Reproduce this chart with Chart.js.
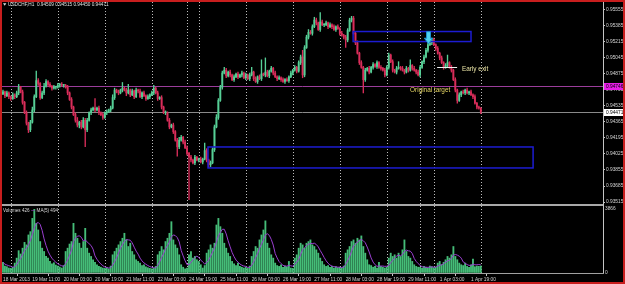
<!DOCTYPE html>
<html>
<head>
<meta charset="utf-8">
<script src="https://cdn.jsdelivr.net/npm/chart.js@4.4.1/dist/chart.umd.min.js"></script>
<style>
  html, body { margin: 0; padding: 0; background: #000; overflow: hidden; }
  #wrap { position: relative; width: 625px; height: 284px; background: #000; }
  #wrap canvas { position: absolute; left: 0; }
  #price { top: 0; }
  #vol { top: 205px; }
  #split { position: absolute; left: 2px; top: 204px; width: 601px; height: 2px; background: #a8a8a8; }
  #frame { position: absolute; left: 0; top: 0; width: 625px; height: 284px; box-sizing: border-box;
           border: 2px solid #c81e1e; pointer-events: none; }
</style>
</head>
<body>
<div id="wrap">
  <canvas id="price" width="625" height="205"></canvas>
  <div id="split"></div>
  <canvas id="vol" width="625" height="79"></canvas>
  <div id="frame"></div>
</div>
<script>
/* ── USDCHF H1, 18 Mar 2013 20:00 → 2 Apr 00:00 (one value per bar) ── */

// prices in pips (0.0001); open of each bar = previous close
const FIRST_OPEN = 9466;
const CLOSE = [
  9468, 9464, 9467, 9463,
  9461, 9465, 9463, 9467, 9473, 9468, 9457, 9446, 9435, 9428, 9436, 9449, 9463, 9480, 9477, 9462, 9467, 9474, 9479, 9476, 9474, 9472, 9473, 9473,
  9475, 9476, 9475, 9475, 9473, 9467, 9460, 9452, 9444, 9438, 9433, 9436, 9431, 9438, 9428, 9438, 9446, 9449, 9451, 9449, 9451, 9446, 9444, 9441,
  9446, 9447, 9449, 9451, 9462, 9470, 9468, 9467, 9470, 9472, 9470, 9467, 9470, 9465, 9469, 9463, 9470, 9469, 9463, 9467, 9464, 9461, 9463, 9465,
  9467, 9472, 9467, 9461, 9462, 9452, 9446, 9446, 9438, 9431, 9433, 9426, 9417, 9410, 9417, 9420, 9415, 9409,
  9403, 9399, 9396, 9393, 9399, 9396,
  9397, 9394, 9397, 9406, 9396, 9391, 9393, 9407, 9431, 9441, 9459, 9473, 9488, 9491, 9485, 9489, 9486, 9481, 9484, 9487, 9484, 9486, 9488, 9483,
  9486, 9482, 9486, 9489, 9482, 9479, 9484, 9482, 9487, 9486, 9489, 9485, 9490, 9493, 9488, 9484, 9482, 9483, 9481, 9479, 9481, 9480, 9484, 9488,
  9491, 9494, 9490, 9499, 9505, 9486, 9515, 9526, 9531, 9530, 9537, 9544, 9541, 9534, 9542, 9539, 9539, 9541, 9537, 9539, 9537, 9534, 9537, 9535,
  9530, 9528, 9526, 9523, 9533, 9544, 9546, 9530, 9520, 9509, 9499, 9494, 9481, 9491, 9493, 9489, 9494, 9497, 9495, 9499, 9494, 9493, 9491, 9486,
  9494, 9507, 9500, 9491, 9489, 9493, 9494, 9493, 9491, 9489, 9493, 9491, 9496, 9493, 9491, 9489, 9486,
  9494, 9500, 9505, 9512, 9518, 9520, 9523,
  9518, 9514, 9509, 9504, 9499, 9494, 9496, 9499, 9494, 9491, 9481, 9470, 9459, 9465, 9468, 9467, 9470, 9467, 9468, 9465, 9463, 9456, 9452, 9450.9, 9447.1
];
// wick length above / below the body, pips
const UP_WICK = [
  2, 1, 2, 1,
  1, 2, 1, 2, 3, 1, 2, 1, 2, 1, 2, 3, 2, 10, 2, 1, 2, 3, 2, 1, 2, 1, 2, 1,
  2, 1, 2, 1, 1, 2, 1, 2, 1, 2, 3, 1, 2, 3, 2, 2, 1, 2, 1, 10, 1, 2, 1, 2,
  1, 2, 1, 2, 3, 2, 1, 2, 1, 6, 1, 2, 6, 1, 2, 1, 2, 1, 2, 1, 2, 1, 2, 1,
  2, 3, 1, 2, 1, 2, 1, 2, 1, 2, 1, 2, 1, 2, 3, 2, 1, 2,
  2, 1, 2, 1, 2, 1,
  1, 2, 1, 8, 2, 1, 2, 2, 2, 3, 2, 2, 2, 3, 2, 1, 2, 1, 2, 1, 2, 1, 2, 1,
  2, 1, 2, 5, 1, 2, 1, 2, 15, 1, 15, 2, 1, 2, 1, 2, 1, 2, 1, 2, 1, 2, 1, 2,
  1, 2, 1, 2, 2, 7, 2, 2, 3, 2, 2, 3, 2, 1, 10, 2, 1, 2, 1, 2, 1, 2, 1, 2,
  1, 2, 1, 2, 2, 2, 2, 2, 1, 2, 1, 2, 1, 2, 1, 2, 1, 2, 1, 2, 1, 2, 1, 2,
  2, 2, 1, 2, 1, 2, 6, 1, 2, 1, 2, 1, 6, 1, 2, 1, 2,
  2, 1, 2, 2, 3, 2, 2,
  2, 1, 2, 1, 2, 1, 2, 8, 1, 2, 1, 2, 1, 2, 1, 2, 1, 2, 1, 2, 1, 2, 1, 1, 0.6
];
const DN_WICK = [
  1, 2, 1, 2,
  2, 1, 2, 1, 2, 1, 2, 1, 2, 3, 2, 1, 2, 1, 2, 2, 1, 2, 1, 2, 1, 2, 1, 2,
  1, 2, 1, 2, 1, 2, 1, 2, 1, 2, 2, 3, 2, 1, 18, 2, 1, 2, 1, 2, 1, 2, 1, 2,
  1, 2, 1, 2, 1, 2, 1, 2, 1, 2, 1, 3, 1, 2, 1, 2, 1, 2, 1, 2, 1, 2, 1, 2,
  1, 2, 1, 2, 1, 2, 1, 2, 1, 2, 1, 2, 1, 10, 2, 1, 2, 1,
  2, 45, 2, 1, 2, 1,
  2, 1, 2, 1, 2, 3, 2, 1, 2, 1, 2, 1, 2, 1, 2, 1, 2, 1, 2, 1, 2, 1, 2, 1,
  2, 1, 2, 1, 2, 1, 2, 1, 2, 1, 2, 1, 2, 1, 2, 1, 2, 1, 2, 1, 2, 1, 2, 1,
  2, 1, 2, 1, 2, 3, 2, 1, 2, 1, 2, 1, 2, 1, 2, 1, 2, 1, 2, 1, 2, 1, 2, 1,
  2, 1, 2, 8, 2, 1, 2, 1, 2, 1, 2, 1, 14, 2, 1, 2, 1, 2, 1, 2, 1, 2, 1, 2,
  1, 2, 1, 2, 1, 2, 1, 2, 1, 2, 1, 2, 1, 2, 1, 2, 1,
  2, 1, 2, 1, 2, 1, 2,
  1, 2, 1, 2, 1, 2, 1, 2, 1, 2, 1, 2, 3, 1, 2, 1, 2, 1, 2, 1, 2, 1, 2, 1, 2.1
];
const VOLUME = [
  650, 420, 380, 300,
  280, 350, 600, 900, 1350, 1150, 1500, 1850, 1700, 2300, 2500, 3300, 3866, 3000, 2600, 1900, 1500, 1300, 1000, 900, 700, 560, 620, 480,
  420, 360, 300, 450, 1300, 1500, 1750, 1900, 3000, 2400, 2100, 1800, 1500, 1900, 2700, 1500, 1200, 1000, 800, 650, 500, 400, 350, 300,
  280, 330, 250, 420, 1100, 1300, 1500, 1700, 1900, 2100, 2400, 2000, 1600, 1800, 1300, 1100, 800, 700, 600, 450, 500, 380, 320, 280,
  250, 300, 400, 1100, 1300, 1600, 1400, 1900, 2100, 2400, 3100, 2000, 1700, 1500, 1100, 500, 350, 250,
  300, 1100, 1300, 900, 1000, 800,
  700, 500, 300, 450, 1200, 1400, 1700, 1500, 1800, 2900, 3300, 2800, 2400, 1800, 1500, 1200, 1000, 700, 550, 450, 600, 400, 350, 300,
  350, 280, 420, 1000, 1300, 1600, 1500, 2000, 2300, 2600, 3150, 1800, 1500, 1100, 900, 600, 450, 400, 500, 350, 420, 380, 700, 300,
  280, 900, 1100, 1500, 1800, 1700, 1500, 1800, 1900, 2000, 1700, 1600, 1400, 1200, 900, 700, 500, 400, 450, 350, 400, 300, 380, 320,
  350, 300, 420, 1200, 1400, 1600, 1900, 2000, 1800, 2100, 2000, 2240, 1600, 1200, 800, 500, 450, 350, 400, 300, 650, 400, 350, 300,
  350, 900, 1200, 1000, 1100, 900, 1200, 1000, 1400, 2000, 1300, 1000, 900, 700, 500, 400, 350,
  350, 300, 400, 350, 300, 420, 380,
  320, 350, 600, 700, 500, 650, 800, 1000, 900, 1100, 1600, 1000, 800, 600, 500, 450, 600, 400, 350, 500, 840, 380, 420, 404, 426
];
const MA_PERIOD = 5;

// axis labels
const PRICE_TICKS = [0.95555, 0.95385, 0.95215, 0.95045, 0.94875, 0.94705, 0.94535, 0.94365, 0.94195, 0.94025, 0.93855, 0.93685, 0.93515];
const VOL_TICKS = [0, 3866];
const TIME_TICK_BARS = [0, 15, 31, 47, 63, 79, 95, 111, 127, 143, 159, 175, 191, 207, 223, 239];
const TIME_TICK_LABELS = ['18 Mar 2013', '19 Mar 11:00', '20 Mar 03:00', '20 Mar 19:00', '21 Mar 11:00', '22 Mar 03:00',
  '24 Mar 19:00', '25 Mar 11:00', '26 Mar 03:00', '26 Mar 19:00', '27 Mar 11:00', '28 Mar 03:00', '28 Mar 19:00',
  '29 Mar 11:00', '1 Apr 03:00', '1 Apr 19:00'];
const DAY_SEPARATORS = [4, 28, 52, 76, 94, 100, 124, 148, 172, 196, 213, 220, 244];

// objects drawn on the chart (bar index / price)
const TARGET_LEVEL = 0.94746;
const ZONES = [
  { from: 178.8, to: 239.0, top: 0.95319, bottom: 0.95213 },
  { from: 104.7, to: 270.7, top: 0.94098, bottom: 0.93876 }
];
const EARLY_EXIT = { from: 221.7, to: 231.9, price: 0.94941 };
const NOTES = [
  { text: 'Early exit',      bar: 234.4, price: 0.94923, color: '#e8e2a4' },
  { text: 'Original target', bar: 207.9, price: 0.94695, color: '#e6d664' }
];
const SELL_ARROW = { bar: 217.3, price: 0.95317 };

/* ── style ─────────────────────────────────────────────── */
const FONT = '"Liberation Sans", Arial, sans-serif';
const BULL = '#56cf96';
const BEAR = '#d92d5a';
const VOL_COLOR = '#45bd78';
const MA_COLOR = '#9a3fd0';
const AXIS_TXT = '#d4d4d4';
const AXIS_LINE = '#c4c4c4';
const PIP = 10000;
const X_MIN = -0.5, X_MAX = 306.4;           // empty shift area on the right
const P_MIN = 0.935265, P_MAX = 0.956101;

/* ── build series ──────────────────────────────────────── */
const N = CLOSE.length;
const OPEN = CLOSE.map((c, i) => i ? CLOSE[i - 1] : FIRST_OPEN);
const bodies = CLOSE.map((c, i) => ({ x: i, y: [OPEN[i] / PIP, c / PIP] }));
const wicks = CLOSE.map((c, i) => ({
  x: i,
  y: [(Math.min(OPEN[i], c) - DN_WICK[i]) / PIP, (Math.max(OPEN[i], c) + UP_WICK[i]) / PIP]
}));
const candleColors = CLOSE.map((c, i) => c >= OPEN[i] ? BULL : BEAR);

const volBars = VOLUME.map((v, i) => ({ x: i, y: v }));
const maVals = VOLUME.map((v, i) => {
  const win = VOLUME.slice(Math.max(0, i - MA_PERIOD + 1), i + 1);
  return win.reduce((a, b) => a + b, 0) / win.length;
});
const maLine = maVals.map((v, i) => ({ x: i, y: v }));

const last = N - 1;
const fmt = p => (p / PIP).toFixed(5);
const TITLE = `USDCHF,H1  ${fmt(OPEN[last])} ${fmt(Math.max(OPEN[last], CLOSE[last]) + UP_WICK[last])} ` +
              `${fmt(Math.min(OPEN[last], CLOSE[last]) - DN_WICK[last])} ${fmt(CLOSE[last])}`;

/* ── helpers ───────────────────────────────────────────── */
function drawSeparators(chart, y0, y1) {
  const { ctx } = chart, xs = chart.scales.x;
  ctx.save();
  ctx.strokeStyle = '#bdbdbd';
  ctx.lineWidth = 1;
  ctx.setLineDash([1, 2]);
  DAY_SEPARATORS.forEach(b => {
    const x = Math.round(xs.getPixelForValue(b)) + 0.5;
    ctx.beginPath(); ctx.moveTo(x, y0); ctx.lineTo(x, y1); ctx.stroke();
  });
  ctx.restore();
}

function drawAxisLine(chart, y0, y1) {
  const { ctx, chartArea } = chart;
  const x = Math.round(chartArea.right) + 0.5;
  ctx.save();
  ctx.strokeStyle = AXIS_LINE; ctx.lineWidth = 1;
  ctx.beginPath(); ctx.moveTo(x, y0); ctx.lineTo(x, y1); ctx.stroke();
  ctx.restore();
}

function hLine(chart, price, color) {
  const { ctx, chartArea } = chart;
  const y = Math.round(chart.scales.y.getPixelForValue(price)) + 0.5;
  ctx.save();
  ctx.strokeStyle = color; ctx.lineWidth = 1;
  ctx.beginPath(); ctx.moveTo(chartArea.left, y); ctx.lineTo(chartArea.right, y); ctx.stroke();
  ctx.restore();
}

function priceTag(chart, price, fill, textColor) {
  const { ctx, chartArea } = chart;
  const y = chart.scales.y.getPixelForValue(price);
  const x = chartArea.right + 1;
  ctx.save();
  ctx.fillStyle = fill;
  ctx.fillRect(x, Math.round(y) - 3, 19, 7);
  ctx.fillStyle = textColor;
  ctx.font = `4.8px ${FONT}`;
  ctx.textBaseline = 'middle';
  ctx.fillText(price.toFixed(5), x + 2, y + 0.5);
  ctx.restore();
}

/* ── price pane overlay ────────────────────────────────── */
const priceOverlay = {
  id: 'priceOverlay',
  beforeDatasetsDraw(chart) {
    drawSeparators(chart, 2, 204);
    hLine(chart, TARGET_LEVEL, '#9b3d9b');
    hLine(chart, CLOSE[last] / PIP, '#8a8a8a');
  },
  afterDatasetsDraw(chart) {
    const { ctx } = chart, xs = chart.scales.x, ys = chart.scales.y;

    // zones
    ctx.save();
    ctx.strokeStyle = '#1c1cd2';
    ctx.lineWidth = 1.5;
    ZONES.forEach(z => {
      const x0 = xs.getPixelForValue(z.from), x1 = xs.getPixelForValue(z.to);
      const y0 = ys.getPixelForValue(z.top), y1 = ys.getPixelForValue(z.bottom);
      ctx.strokeRect(x0, y0, x1 - x0, y1 - y0);
    });
    ctx.restore();

    // early exit level
    ctx.save();
    ctx.strokeStyle = '#f0f0f0'; ctx.lineWidth = 1;
    const ey = Math.round(ys.getPixelForValue(EARLY_EXIT.price)) + 0.5;
    ctx.beginPath();
    ctx.moveTo(xs.getPixelForValue(EARLY_EXIT.from), ey);
    ctx.lineTo(xs.getPixelForValue(EARLY_EXIT.to), ey);
    ctx.stroke();
    ctx.restore();

    // notes
    ctx.save();
    ctx.font = `6.4px ${FONT}`;
    ctx.textBaseline = 'middle';
    NOTES.forEach(n => {
      ctx.fillStyle = n.color;
      ctx.fillText(n.text, xs.getPixelForValue(n.bar), ys.getPixelForValue(n.price));
    });
    ctx.restore();

    // sell arrow
    const ax = xs.getPixelForValue(SELL_ARROW.bar), ay = ys.getPixelForValue(SELL_ARROW.price);
    ctx.save();
    ctx.beginPath();
    ctx.moveTo(ax - 2, ay);
    ctx.lineTo(ax + 2, ay);
    ctx.lineTo(ax + 2, ay + 6.5);
    ctx.lineTo(ax + 4.2, ay + 6.5);
    ctx.lineTo(ax, ay + 12);
    ctx.lineTo(ax - 4.2, ay + 6.5);
    ctx.lineTo(ax - 2, ay + 6.5);
    ctx.closePath();
    ctx.fillStyle = '#4fd2ee';
    ctx.fill();
    ctx.strokeStyle = '#1d8fd0';
    ctx.lineWidth = 1;
    ctx.stroke();
    ctx.restore();
  },
  afterDraw(chart) {
    const { ctx } = chart;
    drawAxisLine(chart, 2, 205);
    priceTag(chart, TARGET_LEVEL, '#e61ee6', '#000');
    priceTag(chart, CLOSE[last] / PIP, '#ffffff', '#000');

    // title
    ctx.save();
    ctx.fillStyle = '#e0e0e0';
    ctx.beginPath(); ctx.moveTo(3, 3.2); ctx.lineTo(6.4, 3.2); ctx.lineTo(4.7, 5.8); ctx.closePath(); ctx.fill();
    ctx.font = `4.7px ${FONT}`;
    ctx.textBaseline = 'middle';
    ctx.fillText(TITLE, 8, 4.8);
    ctx.restore();
  }
};

/* ── volume pane overlay ───────────────────────────────── */
const volOverlay = {
  id: 'volOverlay',
  beforeDatasetsDraw(chart) {
    drawSeparators(chart, 1, chart.chartArea.bottom);
  },
  afterDraw(chart) {
    const { ctx } = chart;
    drawAxisLine(chart, 0, chart.chartArea.bottom);
    ctx.save();
    ctx.font = `4.6px ${FONT}`;
    ctx.textBaseline = 'middle';
    ctx.fillStyle = '#d8d8d8';
    const t1 = `Volumes ${VOLUME[last]}`;
    ctx.fillText(t1, 3, 5.5);
    const w = ctx.measureText(t1).width;
    ctx.strokeStyle = MA_COLOR; ctx.lineWidth = 1; ctx.setLineDash([1, 1]);
    ctx.beginPath(); ctx.moveTo(w + 5, 5.5); ctx.lineTo(w + 9, 5.5); ctx.stroke();
    ctx.fillText(`MA(${MA_PERIOD}) ${Math.round(maVals[last])}`, w + 10, 5.5);
    ctx.restore();
  }
};

const tickFont = { family: FONT, size: 4.8 };

/* ── price chart ───────────────────────────────────────── */
new Chart(document.getElementById('price'), {
  type: 'bar',
  data: {
    datasets: [
      { data: bodies, backgroundColor: candleColors, barThickness: 1.2, minBarLength: 1, grouped: false, order: 0 },
      { data: wicks,  backgroundColor: candleColors, barThickness: 0.7, grouped: false, order: 1 }
    ]
  },
  options: {
    responsive: false,
    animation: false,
    events: [],
    devicePixelRatio: 1,
    layout: { padding: { left: 2, right: 0, top: 4, bottom: 4 } },
    plugins: { legend: { display: false }, tooltip: { enabled: false } },
    scales: {
      x: { type: 'linear', display: false, min: X_MIN, max: X_MAX, offset: false },
      y: {
        position: 'right',
        min: P_MIN,
        max: P_MAX,
        afterFit(s) { s.width = 22; },
        afterBuildTicks(s) { s.ticks = PRICE_TICKS.map(v => ({ value: v })); },
        ticks: { callback: v => v.toFixed(5), color: AXIS_TXT, font: tickFont, padding: 1, autoSkip: false },
        grid: { drawOnChartArea: false, drawTicks: true, tickLength: 2, color: AXIS_LINE },
        border: { display: false }
      }
    }
  },
  plugins: [priceOverlay]
});

/* ── volume chart ──────────────────────────────────────── */
new Chart(document.getElementById('vol'), {
  type: 'bar',
  data: {
    datasets: [
      { type: 'line', data: maLine, borderColor: MA_COLOR, borderWidth: 1, pointRadius: 0, tension: 0, order: 0 },
      { data: volBars, backgroundColor: VOL_COLOR, barThickness: 1.2, grouped: false, order: 1 }
    ]
  },
  options: {
    responsive: false,
    animation: false,
    events: [],
    devicePixelRatio: 1,
    layout: { padding: { left: 2, right: 0, top: 4, bottom: 0 } },
    plugins: { legend: { display: false }, tooltip: { enabled: false } },
    scales: {
      x: {
        type: 'linear',
        min: X_MIN,
        max: X_MAX,
        offset: false,
        afterFit(s) { s.height = 11; },
        afterBuildTicks(s) { s.ticks = TIME_TICK_BARS.map(v => ({ value: v })); },
        ticks: {
          callback: (v, i) => TIME_TICK_LABELS[i],
          align: 'start', maxRotation: 0, autoSkip: false,
          color: AXIS_TXT, font: tickFont, padding: 1
        },
        grid: { drawOnChartArea: false, drawTicks: true, tickLength: 3, color: AXIS_LINE },
        border: { display: true, color: '#a0a0a0' }
      },
      y: {
        position: 'right',
        min: VOL_TICKS[0],
        max: VOL_TICKS[VOL_TICKS.length - 1],
        afterFit(s) { s.width = 22; },
        afterBuildTicks(s) { s.ticks = VOL_TICKS.map(v => ({ value: v })); },
        ticks: { callback: v => String(v), color: AXIS_TXT, font: tickFont, padding: 1, autoSkip: false },
        grid: { drawOnChartArea: false, drawTicks: true, tickLength: 1, color: AXIS_LINE },
        border: { display: false }
      }
    }
  },
  plugins: [volOverlay]
});
</script>
</body>
</html>
